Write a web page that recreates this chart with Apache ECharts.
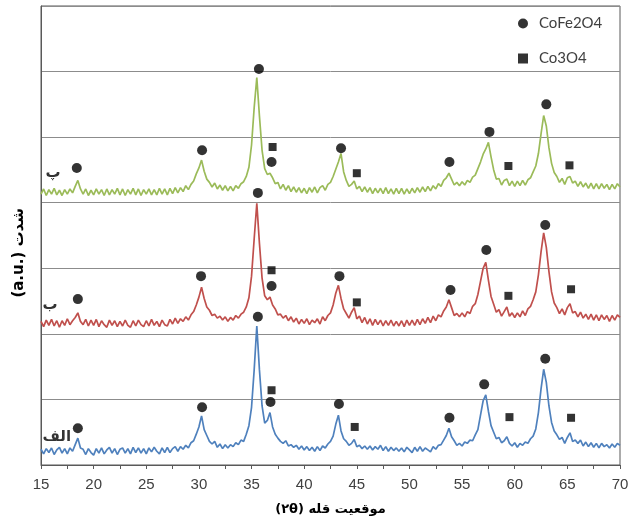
<!DOCTYPE html>
<html>
<head>
<meta charset="utf-8">
<script src="https://cdn.jsdelivr.net/npm/echarts@6/dist/echarts.min.js"></script>
<style>
html,body{margin:0;padding:0;background:#fff;}
#chart{width:638px;height:525px;}
</style>
</head>
<body>
<div id="chart"></div>
<script>
// 2θ sampling grid of the traces
var thetaStart = 15;
var thetaStep = 0.25;
var xTicks = [15, 20, 25, 30, 35, 40, 45, 50, 55, 60, 65, 70];

// Sample (الف) – blue trace, displayed intensity (grid units)
var sampleA = [
 0.24,0.17,0.25,0.19, 0.26,0.16,0.23,0.27, 0.18,0.25,0.17,0.26, 0.21,0.31,0.41,0.26,
 0.24,0.16,0.25,0.19, 0.15,0.25,0.18,0.26, 0.17,0.23,0.27,0.18, 0.25,0.16,0.24,0.26,
 0.18,0.25,0.17,0.27, 0.19,0.26,0.18,0.25, 0.17,0.26,0.20,0.27, 0.21,0.17,0.26,0.19,
 0.27,0.19,0.25,0.28, 0.21,0.28,0.24,0.30, 0.26,0.34,0.37,0.47, 0.58,0.75,0.54,0.45,
 0.36,0.32,0.36,0.27, 0.32,0.25,0.31,0.26, 0.31,0.28,0.34,0.31, 0.38,0.36,0.47,0.60,
 0.88,1.45,2.12,1.45, 0.90,0.64,0.68,0.80, 0.58,0.47,0.41,0.36, 0.33,0.37,0.29,0.31,
 0.27,0.30,0.24,0.29, 0.23,0.28,0.22,0.27, 0.21,0.28,0.22,0.29, 0.26,0.32,0.36,0.44,
 0.62,0.76,0.52,0.40, 0.36,0.30,0.33,0.39, 0.28,0.30,0.25,0.29, 0.24,0.29,0.23,0.28,
 0.24,0.30,0.22,0.28, 0.21,0.27,0.22,0.26, 0.21,0.26,0.20,0.27, 0.23,0.19,0.27,0.21,
 0.28,0.21,0.26,0.23, 0.20,0.28,0.24,0.30, 0.31,0.38,0.45,0.56, 0.43,0.37,0.30,0.33,
 0.29,0.35,0.33,0.38, 0.37,0.46,0.54,0.76, 0.98,1.07,0.82,0.60, 0.50,0.40,0.42,0.34,
 0.37,0.43,0.33,0.29, 0.34,0.27,0.33,0.30, 0.35,0.33,0.40,0.44, 0.55,0.80,1.16,1.46,
 1.26,0.90,0.65,0.52, 0.46,0.39,0.42,0.33, 0.42,0.49,0.36,0.38, 0.33,0.38,0.29,0.35,
 0.28,0.34,0.27,0.33, 0.26,0.33,0.28,0.31, 0.26,0.32,0.27,0.33, 0.30
];

// Sample (ب) – red trace
var sampleB = [
 2.19,2.11,2.21,2.13, 2.22,2.12,2.20,2.10, 2.20,2.13,2.23,2.14, 2.20,2.25,2.32,2.19,
 2.14,2.22,2.12,2.21, 2.13,2.22,2.11,2.20, 2.14,2.10,2.21,2.13, 2.20,2.11,2.19,2.12,
 2.21,2.13,2.10,2.20, 2.12,2.21,2.14,2.11, 2.20,2.12,2.22,2.13, 2.19,2.11,2.21,2.14,
 2.12,2.22,2.15,2.24, 2.16,2.23,2.19,2.26, 2.21,2.29,2.34,2.44, 2.56,2.71,2.54,2.41,
 2.36,2.28,2.30,2.24, 2.27,2.21,2.26,2.19, 2.25,2.21,2.28,2.24, 2.30,2.33,2.41,2.55,
 2.88,3.45,3.99,3.38, 2.85,2.58,2.52,2.56, 2.44,2.38,2.29,2.30, 2.24,2.28,2.20,2.26,
 2.18,2.24,2.15,2.22, 2.16,2.23,2.14,2.21, 2.17,2.23,2.15,2.26, 2.20,2.28,2.32,2.44,
 2.62,2.74,2.54,2.38, 2.31,2.24,2.33,2.40, 2.23,2.27,2.17,2.25, 2.15,2.23,2.13,2.22,
 2.14,2.21,2.12,2.20, 2.13,2.21,2.12,2.19, 2.12,2.20,2.11,2.21, 2.13,2.21,2.13,2.22,
 2.14,2.23,2.16,2.25, 2.17,2.27,2.20,2.29, 2.26,2.35,2.41,2.52, 2.40,2.28,2.31,2.26,
 2.32,2.26,2.34,2.31, 2.42,2.46,2.60,2.80, 3.00,3.09,2.82,2.57, 2.45,2.33,2.37,2.27,
 2.34,2.41,2.27,2.32, 2.25,2.32,2.26,2.35, 2.28,2.38,2.42,2.52, 2.64,2.90,3.25,3.54,
 3.32,2.95,2.64,2.47, 2.40,2.31,2.38,2.29, 2.40,2.46,2.32,2.34, 2.26,2.33,2.24,2.30,
 2.22,2.30,2.21,2.29, 2.20,2.29,2.22,2.28, 2.19,2.28,2.21,2.29, 2.25
];

// Sample (پ) – green trace
var sampleC = [
 4.13,4.21,4.11,4.20, 4.13,4.22,4.12,4.19, 4.11,4.20,4.13,4.21, 4.15,4.25,4.34,4.21,
 4.13,4.21,4.11,4.19, 4.12,4.21,4.13,4.20, 4.11,4.21,4.12,4.20, 4.13,4.22,4.12,4.21,
 4.11,4.20,4.13,4.22, 4.12,4.21,4.11,4.20, 4.13,4.21,4.12,4.20, 4.12,4.22,4.13,4.21,
 4.12,4.22,4.14,4.23, 4.15,4.23,4.17,4.26, 4.20,4.28,4.33,4.44, 4.53,4.65,4.48,4.36,
 4.31,4.24,4.30,4.21, 4.27,4.19,4.26,4.18, 4.25,4.18,4.26,4.22, 4.29,4.32,4.40,4.54,
 4.88,5.45,5.91,5.32, 4.80,4.52,4.43,4.45, 4.38,4.29,4.31,4.21, 4.28,4.19,4.26,4.17,
 4.24,4.16,4.23,4.15, 4.22,4.14,4.23,4.16, 4.24,4.15,4.23,4.26, 4.19,4.28,4.31,4.40,
 4.51,4.62,4.75,4.47, 4.34,4.25,4.28,4.33, 4.21,4.25,4.17,4.24, 4.16,4.23,4.14,4.22,
 4.15,4.22,4.14,4.23, 4.14,4.21,4.13,4.22, 4.14,4.22,4.13,4.21, 4.14,4.22,4.15,4.23,
 4.16,4.24,4.17,4.25, 4.18,4.26,4.21,4.29, 4.25,4.34,4.38,4.45, 4.36,4.27,4.31,4.26,
 4.32,4.27,4.34,4.31, 4.39,4.42,4.52,4.62, 4.74,4.82,4.92,4.70, 4.50,4.36,4.37,4.27,
 4.34,4.36,4.26,4.33, 4.25,4.33,4.26,4.34, 4.27,4.35,4.38,4.47, 4.56,4.75,5.05,5.33,
 5.17,4.84,4.60,4.46, 4.40,4.31,4.37,4.28, 4.38,4.40,4.30,4.33, 4.25,4.32,4.24,4.30,
 4.22,4.30,4.21,4.29, 4.21,4.29,4.22,4.28, 4.20,4.28,4.21,4.29, 4.24
];

// Phase markers: [2θ, displayed height]
var coFe2O4Marks = [
 [18.4,4.53],[30.3,4.80],[35.7,6.04],[36.9,4.62],[43.5,4.83],[53.8,4.62],[57.6,5.08],[63.0,5.50],
 [18.5,2.53],[30.2,2.88],[35.6,4.15],[36.9,2.73],[43.35,2.88],[53.9,2.67],[57.3,3.28],[62.9,3.66],
 [18.5,0.56],[30.3,0.88],[35.6,2.26],[36.8,0.96],[43.3,0.93],[53.8,0.72],[57.1,1.23],[62.9,1.62]
];
var co3O4Marks = [
 [37.0,4.85],[45.0,4.45],[59.4,4.56],[65.2,4.57],
 [36.9,2.97],[45.0,2.48],[59.4,2.58],[65.35,2.68],
 [36.9,1.14],[44.8,0.58],[59.5,0.73],[65.35,0.72]
];

// Sample labels: [2θ, height, text]
var sampleLabels = [
 [16.15,4.45,'پ'],
 [15.85,2.44,'ب'],
 [16.5,0.43,'الف']
];

var seriesNames = ['الف','ب','پ'];
var seriesColors = ['#4f81bd','#c0504d','#9bbb59'];
var phaseNames = ['CoFe2O4','Co3O4'];
var xTitle = '(۲θ) موقعیت قله';
var yTitle = '(a.u.) شدت';

function toPairs(arr){
  var out = [];
  for (var i = 0; i < arr.length; i++) out.push([thetaStart + thetaStep * i, arr[i]]);
  return out;
}

var traces = [sampleA, sampleB, sampleC];
var series = traces.map(function(t, k){
  return {
    name: seriesNames[k], type: 'line', data: toPairs(t),
    showSymbol: false, symbol: 'none',
    lineStyle: {color: seriesColors[k], width: 1.7},
    z: 2, silent: true
  };
});
series.push({
  name: phaseNames[0], type: 'scatter', data: coFe2O4Marks,
  symbol: 'circle', symbolSize: 10, itemStyle: {color: '#000'}, z: 5
});
series.push({
  name: phaseNames[1], type: 'scatter', data: co3O4Marks,
  symbol: 'rect', symbolSize: 8, itemStyle: {color: '#000'}, z: 5
});
series.push({
  name: 'labels', type: 'scatter', data: sampleLabels,
  symbolSize: 0, z: 6, clip: false,
  label: {
    show: true, position: 'inside',
    formatter: function(p){ return p.value[2]; },
    fontFamily: 'DejaVu Sans', fontWeight: 'bold', fontSize: 15, color: '#000'
  }
});

var chart = echarts.init(document.getElementById('chart'), null, {renderer: 'canvas'});
chart.setOption({
  animation: false,
  backgroundColor: '#fff',
  grid: {left: 41, right: 18, top: 6, bottom: 60, show: true, borderColor: '#595959', borderWidth: 1},
  legend: {
    orient: 'vertical', left: 513, top: 11, itemGap: 20,
    itemWidth: 10, itemHeight: 10,
    data: [
      {name: phaseNames[0], icon: 'circle'},
      {name: phaseNames[1], icon: 'rect'}
    ],
    textStyle: {fontFamily: 'Lato', fontSize: 15, color: '#404040', padding: [2,0,0,6]}
  },
  xAxis: {
    type: 'value', min: 15, max: 70, interval: 5,
    axisLine: {show: true, lineStyle: {color: '#595959', width: 1}},
    axisTick: {show: true, length: 4, lineStyle: {color: '#595959'}},
    minorTick: {show: true, splitNumber: 2, length: 4, lineStyle: {color: '#595959'}},
    splitLine: {show: false},
    axisLabel: {
      fontFamily: 'Liberation Sans', fontSize: 15, color: '#404040', margin: 12,
      formatter: function(v){ return xTicks.indexOf(v) >= 0 ? String(v) : ''; }
    },
    name: xTitle, nameLocation: 'middle', nameGap: 38,
    nameTextStyle: {fontFamily: 'DejaVu Sans', fontWeight: 'bold', fontSize: 13, color: '#000'}
  },
  yAxis: {
    type: 'value', min: 0, max: 7, interval: 1,
    axisLine: {show: true, lineStyle: {color: '#595959'}},
    axisTick: {show: false},
    axisLabel: {show: false},
    splitLine: {show: true, lineStyle: {color: '#8c8c8c', width: 1}}
  },
  graphic: [{
    type: 'text', left: 12, top: 208, rotation: Math.PI / 2,
    style: {text: yTitle, font: 'bold 15px "DejaVu Sans"', fill: '#000'}
  }],
  series: series
});
</script>
</body>
</html>
